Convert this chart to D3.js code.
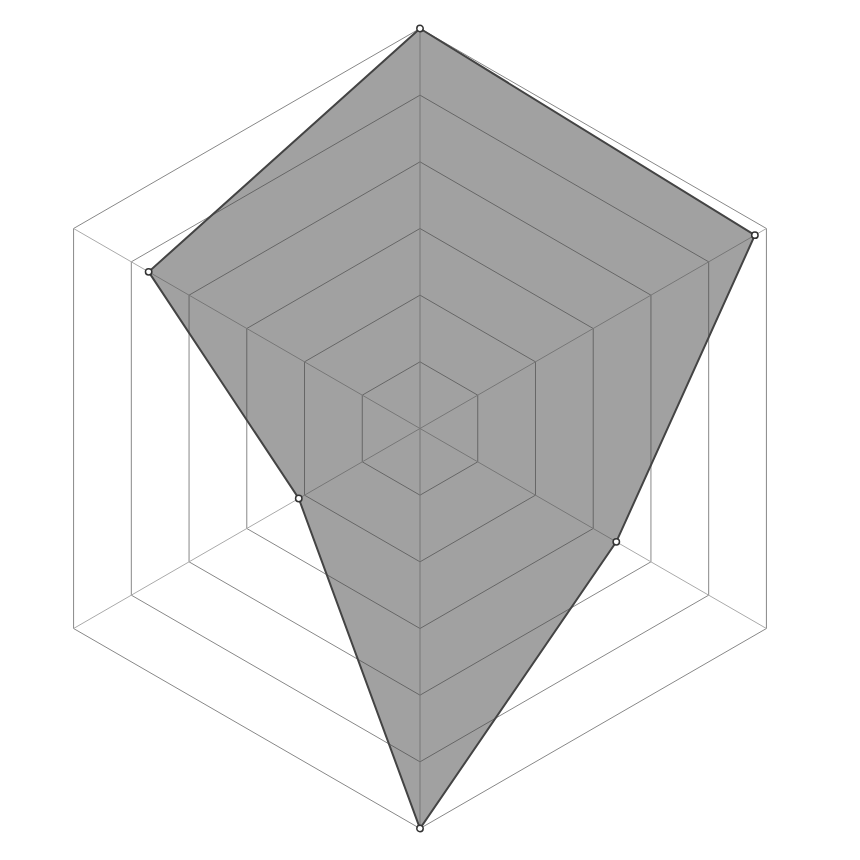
<!DOCTYPE html>
<html>
<head>
<meta charset="utf-8">
<script src="https://cdn.jsdelivr.net/npm/d3@7"></script>
<style>
  body { margin: 0; background: #fff; }
</style>
</head>
<body>
<div id="chart"></div>
<script>
// axes of the radar, clockwise from the top
const axes = ["A", "B", "C", "D", "E", "F"];
// one series, on a 0..6 scale
const values = [6, 5.8, 3.4, 6, 2.1, 4.7];
// grid levels
const levels = [1, 2, 3, 4, 5, 6];

const width = 860, height = 860;
const cx = 420, cy = 428.5, radius = 400;

const svg = d3.select("#chart")
    .append("svg")
    .attr("width", width)
    .attr("height", height)
    .append("g")
    .attr("transform", `translate(${cx}, ${cy})`);

const r = d3.scaleLinear().domain([0, 6]).range([0, radius]);
const angle = d3.scalePoint().domain(axes.concat(["_end"])).range([0, 2 * Math.PI]);

const point = (a, v) => [Math.sin(angle(a)) * r(v), -Math.cos(angle(a)) * r(v)];

// hexagon grid
svg.append("g")
    .selectAll("polygon")
    .data(levels)
    .enter()
    .append("polygon")
    .attr("points", lv => axes.map(a => point(a, lv).join(",")).join(" "))
    .attr("fill", "none")
    .attr("stroke", "#888")
    .attr("stroke-width", 1);

// spokes
svg.append("g")
    .selectAll("line")
    .data(axes)
    .enter()
    .append("line")
    .attr("x1", 0)
    .attr("y1", 0)
    .attr("x2", a => point(a, 6)[0])
    .attr("y2", a => point(a, 6)[1])
    .attr("stroke", "#aaa")
    .attr("stroke-width", 1);

// the area
const line = d3.lineRadial()
    .angle((d, i) => angle(axes[i]))
    .radius(d => r(d))
    .curve(d3.curveLinearClosed);

svg.append("path")
    .datum(values)
    .attr("d", line)
    .attr("fill", "#444")
    .attr("fill-opacity", 0.5)
    .attr("stroke", "#444")
    .attr("stroke-width", 2);

// markers
svg.append("g")
    .selectAll("circle")
    .data(values)
    .enter()
    .append("circle")
    .attr("cx", (d, i) => point(axes[i], d)[0])
    .attr("cy", (d, i) => point(axes[i], d)[1])
    .attr("r", 3.2)
    .attr("fill", "#fff")
    .attr("stroke", "#333")
    .attr("stroke-width", 1.5);
</script>
</body>
</html>
